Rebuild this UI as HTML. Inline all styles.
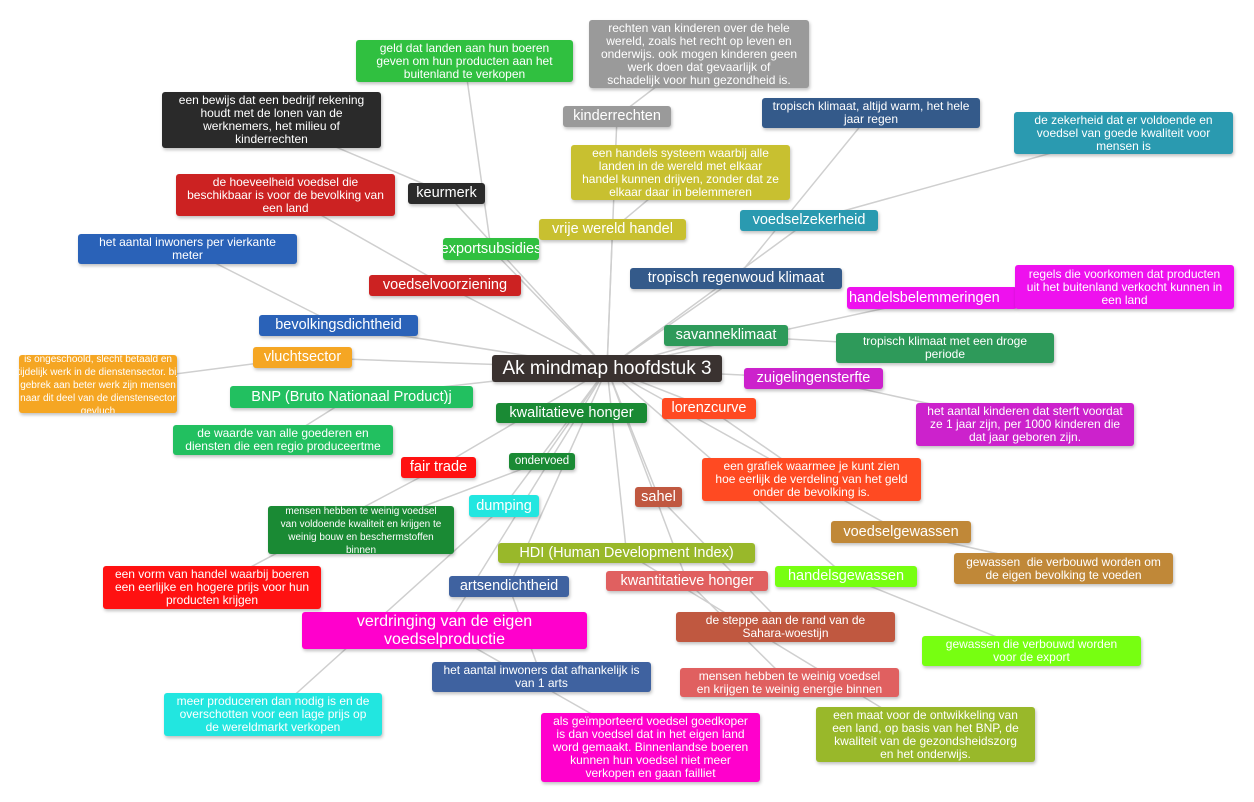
<!DOCTYPE html>
<html><head><meta charset="utf-8">
<style>
body{margin:0;width:1254px;height:802px;background:#fff;position:relative;overflow:hidden;font-family:"Liberation Sans",Arial,sans-serif;}
.n{position:absolute;color:#fff;text-align:center;border-radius:3px;box-shadow:1px 2px 3px rgba(0,0,0,.25);display:flex;align-items:center;justify-content:center;line-height:13px;font-size:12px;box-sizing:border-box;padding:0 2px;white-space:nowrap;overflow:hidden}
svg{position:absolute;left:0;top:0}
</style></head><body>
<svg id="s" width="1254" height="802"></svg>
<div id="c"></div>
<script>
var N=[
["c",492,355,230,27,"#3a3230","Ak mindmap hoofdstuk 3",19],
["kr",563,106,108,21,"#9a9a9a","kinderrechten",14.5],
["krd",589,20,220,68,"#9a9a9a","rechten van kinderen over de hele<br>wereld, zoals het recht op leven en<br>onderwijs. ook mogen kinderen geen<br>werk doen dat gevaarlijk of<br>schadelijk voor hun gezondheid is."],
["ex",443,238,96,22,"#30c040","exportsubsidies",14.5],
["exd",356,40,217,42,"#30c040","geld dat landen aan hun boeren<br>geven om hun producten aan het<br>buitenland te verkopen"],
["ke",408,183,77,21,"#2a2a2a","keurmerk",14.5],
["ked",162,92,219,56,"#2a2a2a","een bewijs dat een bedrijf rekening<br>houdt met de lonen van de<br>werknemers, het milieu of<br>kinderrechten"],
["vv",369,275,152,21,"#cc2222","voedselvoorziening",14.5],
["vvd",176,174,219,42,"#cc2222","de hoeveelheid voedsel die<br>beschikbaar is voor de bevolking van<br>een land"],
["bd",259,315,159,21,"#2a62b8","bevolkingsdichtheid",14.5],
["bdd",78,234,219,30,"#2a62b8","het aantal inwoners per vierkante<br>meter"],
["vs",253,347,99,21,"#f5a623","vluchtsector",14.5],
["vsd",19,355,158,58,"#f5a623","<span style='font-size:10px;line-height:11px'>is ongeschoold, slecht betaald en<br>tijdelijk werk in de dienstensector. bij<br>gebrek aan beter werk zijn mensen<br>naar dit deel van de dienstensector<br>gevluch</span>"],
["bnp",230,386,243,22,"#22c060","BNP (Bruto Nationaal Product)j",14.5],
["bnpd",173,425,220,30,"#22c060","de waarde van alle goederen en<br>diensten die een regio produceertme"],
["vw",539,219,147,21,"#c8c030","vrije wereld handel",14.5],
["vwd",571,145,219,55,"#c8c030","een handels systeem waarbij alle<br>landen in de wereld met elkaar<br>handel kunnen drijven, zonder dat ze<br>elkaar daar in belemmeren"],
["kh",496,403,151,20,"#1a8a34","kwalitatieve honger",14.5],
["od",509,453,66,17,"#1a8a34","ondervoed",11.5],
["odd",268,506,186,48,"#1a8a34","<span style='font-size:10px;line-height:11px'>mensen hebben te weinig voedsel<br>van voldoende kwaliteit en krijgen te<br>weinig bouw en beschermstoffen<br>binnen</span>"],
["ft",401,457,75,21,"#ff1111","fair trade",14.5],
["ftd",103,566,218,43,"#ff1111","een vorm van handel waarbij boeren<br>een eerlijke en hogere prijs voor hun<br>producten krijgen"],
["dp",469,495,70,22,"#22e6e0","dumping",14.5],
["dpd",164,693,218,43,"#22e6e0","meer produceren dan nodig is en de<br>overschotten voor een lage prijs op<br>de wereldmarkt verkopen"],
["hdi",498,543,257,20,"#99b82a","HDI (Human Development Index)",14.5],
["hdid",816,707,219,55,"#99b82a","een maat voor de ontwikkeling van<br>een land, op basis van het BNP, de<br>kwaliteit van de gezondsheidszorg<br>en het onderwijs."],
["ad",449,576,120,21,"#3f62a0","artsendichtheid",14.5],
["add",432,662,219,30,"#3f62a0","het aantal inwoners dat afhankelijk is<br>van 1 arts"],
["vd",302,612,285,37,"#ff00cc","verdringing van de eigen<br>voedselproductie",16],
["vdd",541,713,219,69,"#ff00cc","als geïmporteerd voedsel goedkoper<br>is dan voedsel dat in het eigen land<br>word gemaakt. Binnenlandse boeren<br>kunnen hun voedsel niet meer<br>verkopen en gaan failliet"],
["lc",662,398,94,21,"#ff4a22","lorenzcurve",14.5],
["lcd",702,458,219,43,"#ff4a22","een grafiek waarmee je kunt zien<br>hoe eerlijk de verdeling van het geld<br>onder de bevolking is."],
["sh",635,487,47,20,"#c05840","sahel",14.5],
["shd",676,612,219,30,"#c05840","de steppe aan de rand van de<br>Sahara-woestijn"],
["kw",606,571,162,20,"#e06060","kwantitatieve honger",14.5],
["kwd",680,668,219,29,"#e06060","mensen hebben te weinig voedsel<br>en krijgen te weinig energie binnen"],
["vg",831,521,140,22,"#c08838","voedselgewassen",14.5],
["vgd",954,553,219,31,"#c08838","gewassen &nbsp;die verbouwd worden om<br>de eigen bevolking te voeden"],
["hg",775,566,142,21,"#77ff11","handelsgewassen",14.5],
["hgd",922,636,219,30,"#77ff11","gewassen die verbouwd worden<br>voor de export"],
["zs",744,368,139,21,"#cc22cc","zuigelingensterfte",14.5],
["zsd",916,403,218,43,"#cc22cc","het aantal kinderen dat sterft voordat<br>ze 1 jaar zijn, per 1000 kinderen die<br>dat jaar geboren zijn."],
["sk",664,325,124,21,"#2e9a5a","savanneklimaat",14.5],
["skd",836,333,218,30,"#2e9a5a","tropisch klimaat met een droge<br>periode"],
["hb",847,287,170,22,"#ee11ee","handelsbelemmeringen",14.5],
["hbd",1015,265,219,44,"#ee11ee","regels die voorkomen dat producten<br>uit het buitenland verkocht kunnen in<br>een land"],
["tr",630,268,212,21,"#345a8a","tropisch regenwoud klimaat",14.5],
["trd",762,98,218,30,"#345a8a","tropisch klimaat, altijd warm, het hele<br>jaar regen"],
["vz",740,210,138,21,"#2a9ab0","voedselzekerheid",14.5],
["vzd",1014,112,219,42,"#2a9ab0","de zekerheid dat er voldoende en<br>voedsel van goede kwaliteit voor<br>mensen is"]
];
var E=[["kr","krd"],["ex","exd"],["ke","ked"],["vv","vvd"],["bd","bdd"],["vs","vsd"],["bnp","bnpd"],["vw","vwd"],["od","odd"],["ft","ftd"],["dp","dpd"],["hdi","hdid"],["ad","add"],["vd","vdd"],["lc","lcd"],["sh","shd"],["kw","kwd"],["vg","vgd"],["hg","hgd"],["zs","zsd"],["sk","skd"],["hb","hbd"],["tr","trd"],["vz","vzd"]];
var M={},h="";
N.forEach(function(a){M[a[0]]=[a[1]+a[3]/2,a[2]+a[4]/2];
 var fs=a[7]?"font-size:"+a[7]+"px;line-height:"+(a[7]+2)+"px;":"";
 h+="<div class='n' style='left:"+a[1]+"px;top:"+a[2]+"px;width:"+a[3]+"px;height:"+a[4]+"px;background:"+a[5]+";"+fs+(a[0]=="hb"?"justify-content:flex-start;":"")+"'><div>"+a[6]+"</div></div>";});
var l="";
function ln(p,q){l+="<line x1='"+p[0]+"' y1='"+p[1]+"' x2='"+q[0]+"' y2='"+q[1]+"' stroke='#cfcfcf' stroke-width='1.5'/>";}
E.forEach(function(e){ln(M[e[0]],M[e[1]]);if(e[0]!="od")ln(M.c,M[e[0]]);});
ln(M.c,M.od);
document.getElementById("s").innerHTML=l;
document.getElementById("c").innerHTML=h;
</script>
</body></html>
